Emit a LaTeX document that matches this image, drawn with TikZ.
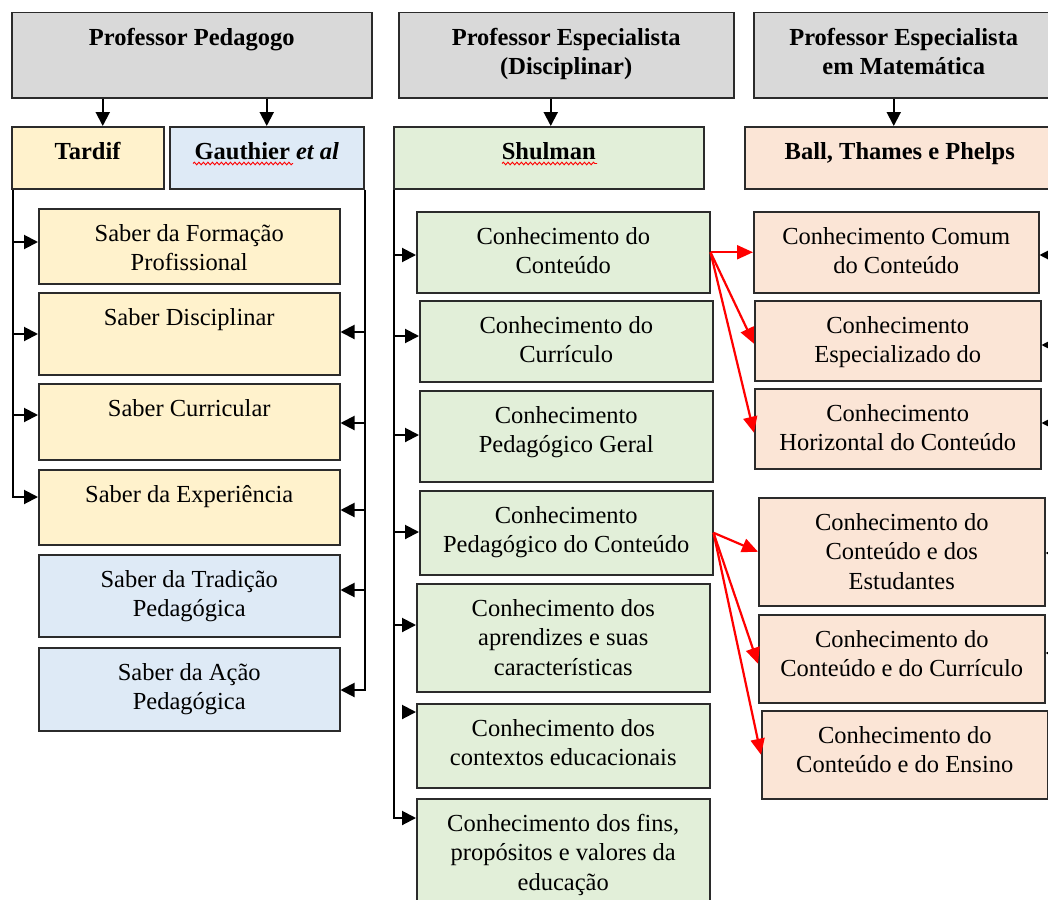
\documentclass[tikz,border=0pt]{standalone}
\usepackage{fontspec}
\setmainfont{Liberation Serif}
\usetikzlibrary{arrows.meta,calc,decorations.pathmorphing}

\definecolor{hdr}{HTML}{D9D9D9}
\definecolor{yel}{HTML}{FFF2CC}
\definecolor{blu}{HTML}{DEEAF6}
\definecolor{grn}{HTML}{E2EFD9}
\definecolor{pch}{HTML}{FBE5D6}
\definecolor{boxline}{HTML}{2B2B2B}
\definecolor{wordred}{HTML}{FF0000}

\newcommand\bodyfont{\fontsize{24.5}{29.5}\selectfont}

\tikzset{
  box/.style={draw=boxline, line width=1.5pt, inner sep=0pt, anchor=north west},
  lbl/.style={font=\bodyfont, align=center, inner sep=0pt, anchor=north},
  arr/.style={line width=2pt, -{Triangle[length=14pt,width=14pt]}},
  rarr/.style={draw=wordred, line width=2.2pt, -{Triangle[length=16pt,width=14pt]}},
  squig/.style={wordred, line width=0.9pt, decorate,
    decoration={snake, amplitude=1.3pt, segment length=4.5pt}}
}

% box with its text set from the top edge
\newcommand\kbox[7]{%
  \node[box, fill=#2, minimum width=#5pt, minimum height=#6pt] (#1) at (#3,#4) {};
  \node[lbl] (#1-t) at ([yshift=-12.5pt]#1.north) {\strut #7};
}

\begin{document}
\begin{tikzpicture}[x=1pt,y=-1pt]
\useasboundingbox (0,0) rectangle (1048,899);
\clip (0,0) rectangle (1048,899);
\fill[white] (0,0) rectangle (1048,899);

% ---- Professor Pedagogo
\kbox{pp}{hdr}{11}{12}{360}{85}{\textbf{Professor Pedagogo}}
\kbox{tardif}{yel}{11}{126}{152}{62}{\textbf{Tardif}}
\kbox{gauthier}{blu}{169}{126}{194}{62}{\textbf{Gauthier \textit{et al}}}
\kbox{sfp}{yel}{38}{208}{301}{75}{Saber da Formação\\Profissional}
\kbox{sdi}{yel}{38}{292}{301}{82}{Saber Disciplinar}
\kbox{scu}{yel}{38}{383}{301}{76}{Saber Curricular}
\kbox{sex}{yel}{38}{469}{301}{75}{Saber da Experiência}
\kbox{str}{blu}{38}{554}{301}{82}{Saber da Tradição\\Pedagógica}
\kbox{sac}{blu}{38}{647}{301}{83}{Saber da Ação\\Pedagógica}

% ---- Professor Especialista (Disciplinar)
\kbox{pe}{hdr}{398}{12}{335}{85}{\textbf{Professor Especialista}\\\textbf{(Disciplinar)}}
\kbox{shul}{grn}{393}{126}{310}{62}{\textbf{Shulman}}
\kbox{ccont}{grn}{416}{211}{293}{81}{Conhecimento do\\Conteúdo}
\kbox{ccurr}{grn}{419}{300}{293}{81}{Conhecimento do\\Currículo}
\kbox{cpg}{grn}{419}{390}{293}{91}{Conhecimento\\Pedagógico Geral}
\kbox{cpc}{grn}{419}{490}{293}{84}{Conhecimento\\Pedagógico do Conteúdo}
\kbox{capr}{grn}{416}{583}{293}{108}{Conhecimento dos\\aprendizes e suas\\características}
\kbox{cctx}{grn}{416}{703}{293}{84}{Conhecimento dos\\contextos educacionais}
\kbox{cfin}{grn}{416}{798}{293}{120}{Conhecimento dos fins,\\propósitos e valores da\\educação}

% ---- Professor Especialista em Matemática
\kbox{pm}{hdr}{753}{12}{300}{85}{\textbf{Professor Especialista}\\\textbf{em Matemática}}
\kbox{ball}{pch}{744}{126}{310}{62}{\textbf{Ball, Thames e Phelps}}
\kbox{ccom}{pch}{753}{211}{285}{81}{Conhecimento Comum\\do Conteúdo}
\kbox{cesp}{pch}{754}{300}{286}{80}{Conhecimento\\Especializado do}
\kbox{chor}{pch}{754}{388}{286}{80}{Conhecimento\\Horizontal do Conteúdo}
\kbox{cest}{pch}{758}{497}{286}{108}{Conhecimento do\\Conteúdo e dos\\Estudantes}
\kbox{ccur}{pch}{758}{614}{286}{88}{Conhecimento do\\Conteúdo e do Currículo}
\kbox{cens}{pch}{761}{710}{286}{88}{Conhecimento do\\Conteúdo e do Ensino}

% spelling marks under names
\draw[squig] ([xshift=24pt,yshift=26pt]gauthier.south west) -- ++(100,0);
\draw[squig] ([xshift=109pt,yshift=26pt]shul.south west) -- ++(95,0);

% ---- headers to authors
\coordinate (ta) at ([xshift=15pt]tardif.north);
\coordinate (sa) at ([xshift=2pt]shul.north);
\coordinate (ba) at ([xshift=-6pt]ball.north);
\draw[arr] (pp.south -| ta) -- (ta);
\draw[arr] (pp.south -| gauthier.north) -- (gauthier.north);
\draw[arr] (pe.south -| sa) -- (sa);
\draw[arr] (pm.south -| ba) -- (ba);

% ---- Tardif trunk (left)
\coordinate (lt) at ([xshift=2pt]tardif.south west);
\coordinate (l1) at ([yshift=-34pt]sfp.north west);
\coordinate (l2) at ([yshift=-42pt]sdi.north west);
\coordinate (l3) at ([yshift=-32pt]scu.north west);
\coordinate (l4) at ([yshift=-28pt]sex.north west);
\draw[arr] (lt |- l1) -- (l1);
\draw[arr] (lt |- l2) -- (l2);
\draw[arr] (lt |- l3) -- (l3);
\draw[arr] (lt) |- (l4);

% ---- Gauthier trunk (right)
\coordinate (rt) at (gauthier.south east);
\coordinate (r1) at ([yshift=-40pt]sdi.north east);
\coordinate (r2) at ([yshift=-40pt]scu.north east);
\coordinate (r3) at ([yshift=-41pt]sex.north east);
\coordinate (r4) at ([yshift=-36pt]str.north east);
\coordinate (r5) at ([yshift=-43pt]sac.north east);
\draw[arr] (rt |- r1) -- (r1);
\draw[arr] (rt |- r2) -- (r2);
\draw[arr] (rt |- r3) -- (r3);
\draw[arr] (rt |- r4) -- (r4);
\draw[arr] (rt) |- (r5);

% ---- Shulman trunk
\coordinate (mt) at ([xshift=1pt]shul.south west);
\coordinate (m1) at ([yshift=-44pt]ccont.north west);
\coordinate (m2) at ([yshift=-36pt]ccurr.north west);
\coordinate (m3) at ([yshift=-45pt]cpg.north west);
\coordinate (m4) at ([yshift=-42pt]cpc.north west);
\coordinate (m5) at ([yshift=-42pt]capr.north west);
\coordinate (m6) at ([yshift=-9pt]cctx.north west);
\coordinate (m7) at ([yshift=-20pt]cfin.north west);
\coordinate (m6s) at ($(mt |- m6)+(9,0)$);
\draw[arr] (mt |- m1) -- (m1);
\draw[arr] (mt |- m2) -- (m2);
\draw[arr] (mt |- m3) -- (m3);
\draw[arr] (mt |- m4) -- (m4);
\draw[arr] (mt |- m5) -- (m5);
\draw[arr] (m6s) -- (m6);
\draw[arr] (mt) |- (m7);

% ---- Ball, Thames e Phelps branches (from the right edge)
\coordinate (redge) at (1056,0);
\coordinate (b1) at ([yshift=-44pt]ccom.north east);
\coordinate (b2) at ([yshift=-45pt]cesp.north east);
\coordinate (b3) at ([yshift=-35pt]chor.north east);
\coordinate (b4) at ([yshift=-56pt]cest.north east);
\coordinate (b5) at ([yshift=-39pt]ccur.north east);
\coordinate (b6) at ([yshift=-43pt]cens.north east);
\foreach \b in {b1,b2,b3,b4,b5,b6}
  \draw[arr] (redge |- \b) -- (\b);

% ---- red links between the two specialist columns
\draw[rarr] (ccont.east) -- (ccom.west);
\draw[rarr] (ccont.east) -- ([yshift=-3pt]cesp.west);
\draw[rarr] (ccont.east) -- ([yshift=-4pt]chor.west);
\draw[rarr] (cpc.east) -- (cest.west);
\draw[rarr] (cpc.east) -- ([yshift=-5pt]ccur.west);
\draw[rarr] (cpc.east) -- (cens.west);
\end{tikzpicture}
\end{document}
